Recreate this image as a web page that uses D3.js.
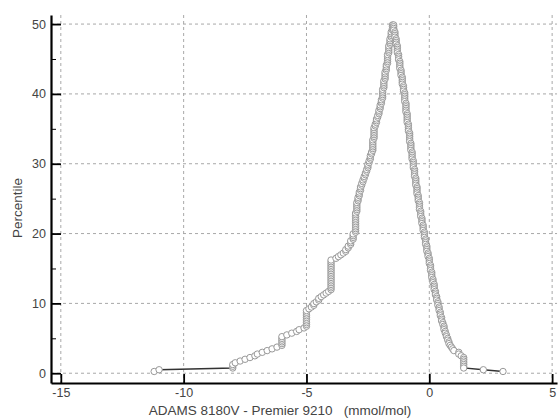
<!DOCTYPE html>
<html>
<head>
<meta charset="utf-8">
<script src="https://cdn.jsdelivr.net/npm/d3@7"></script>
<style>
  body { margin: 0; background: #fff; }
  svg text { font-family: "Liberation Sans", Arial, sans-serif; fill: #444; }
</style>
</head>
<body>
<div id="chart"></div>
<script>
// sorted differences (mmol/mol) and how many times each occurs
const diffValues = [-11.2, -11.0, -8.0, -7.9, -7.7, -7.5, -7.3, -7.1, -7.0, -6.8, -6.6, -6.4, -6.2,
  -6.0, -5.8, -5.6, -5.4, -5.3, -5.1, -5.0,
  -4.9, -4.8, -4.7, -4.6, -4.5, -4.4, -4.3, -4.2, -4.1, -4.0,
  -3.8, -3.7, -3.6, -3.5, -3.4, -3.3, -3.2, -3.1, -3.0, -2.95,
  -2.9, -2.85, -2.8, -2.75, -2.7, -2.65, -2.6, -2.55, -2.5, -2.45,
  -2.4, -2.35, -2.3, -2.25, -2.2, -2.15, -2.1, -2.05, -2.0, -1.95,
  -1.9, -1.85, -1.8, -1.75, -1.7, -1.65, -1.6, -1.55, -1.5, -1.45,
  -1.4, -1.35, -1.3, -1.25, -1.2, -1.15, -1.1, -1.05, -1.0, -0.95,
  -0.9, -0.85, -0.8, -0.75, -0.7, -0.65, -0.6, -0.55, -0.5, -0.45,
  -0.4, -0.35, -0.3, -0.25, -0.2, -0.15, -0.1, -0.05, 0.0, 0.05,
  0.1, 0.15, 0.2, 0.25, 0.3, 0.35, 0.4, 0.45, 0.5, 0.55,
  0.6, 0.65, 0.7, 0.75, 0.8, 0.85, 0.9, 0.95, 1.0,
  1.2, 1.3, 1.4, 2.2, 3.0];
const diffCounts = [1, 1, 3, 1, 1, 1, 1, 1, 1, 1, 1, 1, 1,
  6, 1, 1, 1, 1, 1, 10,
  1, 1, 2, 1, 2, 1, 1, 1, 1, 18,
  1, 1, 1, 1, 2, 2, 3, 4, 12, 6,
  3, 3, 3, 2, 2, 2, 2, 2, 3, 2,
  3, 2, 7, 7, 2, 3, 2, 3, 3, 3,
  6, 5, 5, 4, 6, 5, 4, 4, 4, 4,
  4, 4, 5, 4, 5, 4, 5, 4, 6, 6,
  6, 5, 6, 5, 5, 5, 5, 5, 5, 4,
  5, 4, 4, 4, 4, 4, 4, 3, 4, 4,
  4, 3, 4, 3, 3, 3, 3, 3, 3, 2,
  3, 2, 2, 2, 2, 1, 1, 1, 1,
  2, 1, 7, 1, 1];

const xTicks = [-15, -10, -5, 0, 5];
const yTicks = [0, 10, 20, 30, 40, 50];
const yMinorTicks = [5, 15, 25, 35, 45];
const xTitle = "ADAMS 8180V - Premier 9210   (mmol/mol)";
const yTitle = "Percentile";

const W = 560, H = 420;
const plotLeft = 51, plotTop = 15, plotBottom = 383;

// expand to a sorted list, then fold the percentile (mountain plot)
let sorted = [];
diffValues.forEach((v, i) => { for (let k = 0; k < diffCounts[i]; k++) sorted.push(v); });
const n = sorted.length;
const points = sorted.map((v, i) => {
  let p = 100 * (i + 1) / (n + 1);
  if (p > 50) p = 100 - p;
  return { x: v, p: p };
});

const svg = d3.select("#chart").append("svg")
  .attr("width", W).attr("height", H);

const x = d3.scaleLinear().domain([-15.4, 5.2]).range([plotLeft, plotLeft + 20.6 * 24.565]);
const y = d3.scaleLinear().domain([-1.4, 51.3]).range([plotBottom, plotTop]);
const plotRight = x.range()[1];

// grid
svg.append("g")
  .selectAll("line").data(xTicks).join("line")
  .attr("x1", d => x(d)).attr("x2", d => x(d))
  .attr("y1", plotTop).attr("y2", plotBottom)
  .attr("stroke", "#a8a8a8").attr("stroke-width", 1)
  .attr("stroke-dasharray", "3,3");
svg.append("g")
  .selectAll("line").data(yTicks).join("line")
  .attr("x1", plotLeft).attr("x2", plotRight)
  .attr("y1", d => y(d)).attr("y2", d => y(d))
  .attr("stroke", "#a8a8a8").attr("stroke-width", 1)
  .attr("stroke-dasharray", "3,3");

// data line and circles
const line = d3.line().x(d => x(d.x)).y(d => y(d.p));
svg.append("path")
  .datum(points)
  .attr("d", line)
  .attr("fill", "none")
  .attr("stroke", "#333")
  .attr("stroke-width", 1.3);

svg.append("g")
  .selectAll("circle").data(points).join("circle")
  .attr("cx", d => x(d.x))
  .attr("cy", d => y(d.p))
  .attr("r", 3.2)
  .attr("fill", "#fff")
  .attr("stroke", "#999")
  .attr("stroke-width", 1);

// axes
const xAxis = svg.append("g")
  .attr("transform", `translate(0, ${plotBottom})`)
  .call(d3.axisBottom(x).tickValues(xTicks).tickSizeInner(-9).tickSizeOuter(0).tickPadding(5.5));
const yAxis = svg.append("g")
  .attr("transform", `translate(${plotLeft}, 0)`)
  .call(d3.axisLeft(y).tickValues(yTicks).tickSizeInner(-10).tickSizeOuter(0).tickPadding(5));
svg.append("g")
  .attr("transform", `translate(${plotLeft}, 0)`)
  .call(d3.axisLeft(y).tickValues(yMinorTicks).tickSize(-5).tickFormat(""))
  .call(g => g.select(".domain").remove())
  .selectAll("line").attr("stroke", "#000").attr("stroke-width", 1);

[xAxis, yAxis].forEach(g => {
  g.select(".domain").attr("stroke", "#000").attr("stroke-width", 2.2);
  g.selectAll(".tick line").attr("stroke", "#000").attr("stroke-width", 1.8);
  g.selectAll(".tick text").style("font-size", "12.5px").attr("fill", "#444");
});
xAxis.selectAll(".tick text").text(d => d < 0 ? "-" + Math.abs(d) : d);

// axis titles
svg.append("text")
  .attr("x", 280).attr("y", 415)
  .attr("text-anchor", "middle")
  .style("font-size", "13.5px")
  .style("white-space", "pre")
  .text(xTitle);
svg.append("text")
  .attr("transform", `translate(22, 208) rotate(-90)`)
  .attr("text-anchor", "middle")
  .style("font-size", "13.5px")
  .text(yTitle);
</script>
</body>
</html>
